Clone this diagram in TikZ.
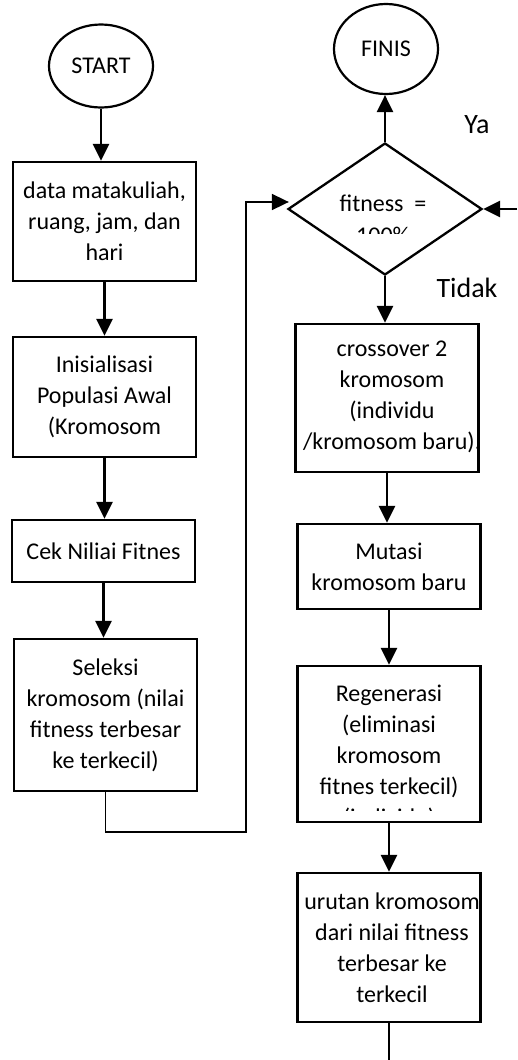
\documentclass[tikz,border=0pt]{standalone}
\usepackage{fontspec}
\setmainfont{Carlito}
\usetikzlibrary{arrows.meta,shapes.geometric}
\begin{document}
\begin{tikzpicture}[x=1pt,y=-1pt,
  txt/.style={font=\fontsize{24}{31}\selectfont,align=center,inner sep=0pt},
  lbl/.style={font=\fontsize{28}{34}\selectfont,inner sep=0pt},
  box/.style={draw,line width=2.3pt,minimum width=183pt,inner sep=0pt,align=center,font=\fontsize{24}{31}\selectfont},
  term/.style={draw,ellipse,line width=2.2pt,inner sep=0pt,font=\fontsize{24}{31}\selectfont},
  dec/.style={draw,diamond,line width=2.3pt,inner sep=0pt,minimum width=194pt,minimum height=132pt},
  flow/.style={line width=2.5pt,-{Triangle[length=17pt,width=16pt]}},
  thin/.style={line width=1.8pt}
]
\useasboundingbox (0,0) rectangle (517,1060);

% left column
\node[term,minimum width=104pt,minimum height=83pt] (start) at (101,66) {START};
\node[box,minimum height=119pt] (d1) at (104.5,221.5) {data matakuliah,\\ ruang, jam, dan\\ hari};
\node[box,minimum height=120pt] (d2) at (104.5,397) {Inisialisasi\\ Populasi Awal\\ (Kromosom};
\node[box,minimum height=62pt] (d3) at (103.5,551) {Cek Niliai Fitnes};
\node[box,minimum height=152pt] (d4) at (105.5,715) {Seleksi\\ kromosom (nilai\\ fitness terbesar\\ ke terkecil)};

% right column
\node[term,minimum width=104pt,minimum height=90pt] (finis) at (386,49) {FINIS};
\node[dec] (fit) at (385,209) {};
\node[txt] (fittxt) at (383,203) {fitness\ \ =};
\begin{scope}
  \clip (300,150) rectangle (470,233);
  \node[txt] (fitval) at (383,235) {100\%};
\end{scope}
\node[box,minimum height=148pt] (c1) at (387,398) {};
\node[txt] (c1txt) at (392,397) {crossover 2\\ kromosom\\ (individu\\ /kromosom baru).};
\node[box,minimum height=85pt] (mu) at (389,566.5) {Mutasi\\ kromosom baru};
\node[box,minimum height=156pt] (re) at (389,744) {};
\begin{scope}
  \clip (298,666) rectangle (480,810);
  \node[txt] (retxt) at (389,757) {Regenerasi\\ (eliminasi\\ kromosom\\ fitnes terkecil)\\ (individu)};
\end{scope}
\node[box,minimum height=149pt] (ur) at (389,947.5) {};
\node[txt] (urtxt) at (392,947.5) {urutan kromosom\\ dari nilai fitness\\ terbesar ke\\ terkecil};

\node[lbl] (ya) at (477,125) {Ya};
\node[lbl] (tidak) at (467,288) {Tidak};

\coordinate (loop) at (246,832);
\coordinate (rin) at (517,209);
\coordinate (bend) at (389,1060);

% connectors
\draw[flow] (start.south) -- (start.south |- d1.north);
\draw[flow] (d1.south) -- (d1.south |- d2.north);
\draw[flow] (d2.south) -- (d2.south |- d3.north);
\draw[flow] (d3.south) -- (d3.south |- d4.north);
\draw[thin,-{Triangle[length=17pt,width=16pt]}] (d4.south) |- (loop) -- ([yshift=7pt]loop |- fit.west) -- ([yshift=7pt,xshift=2pt]fit.west);
\draw[flow] (fit.north) -- (fit.north |- finis.south);
\draw[flow] (rin) -- (fit.east);
\draw[flow] (fit.south) -- (fit.south |- c1.north);
\draw[flow] (c1.south) -- (c1.south |- mu.north);
\draw[flow] (mu.south) -- (mu.south |- re.north);
\draw[flow] (re.south) -- (re.south |- ur.north);
\draw[line width=2.5pt] (ur.south) -- (bend);
\end{tikzpicture}
\end{document}
